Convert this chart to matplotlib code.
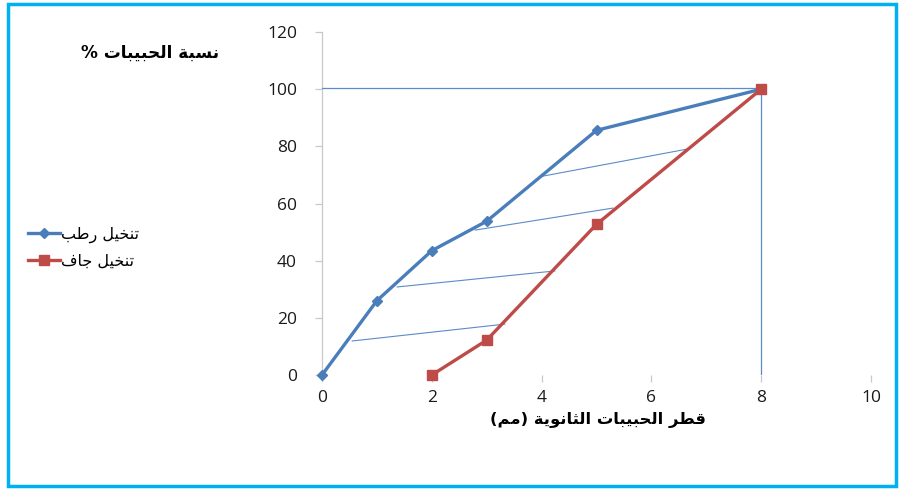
import matplotlib.pyplot as plt
from matplotlib.patches import Rectangle

# ---- data ----
wet_x = [0, 1, 2, 3, 5, 8]
wet_y = [0, 26, 43.5, 53.8, 85.6, 100]
dry_x = [2, 3, 5, 8]
dry_y = [0, 12.2, 52.7, 100]

# thin hand drawn helper lines (x0, y0, x1, y1)
guide_x0 = [0.55, 1.37, 2.79, 4.03]
guide_y0 = [11.9, 30.8, 50.7, 69.6]
guide_x1 = [3.33, 4.24, 5.30, 6.67]
guide_y1 = [17.8, 36.4, 58.4, 79.1]

x_ticks = [0, 2, 4, 6, 8, 10]
y_ticks = [0, 20, 40, 60, 80, 100, 120]

wet_label = "تنخيل رطب"
dry_label = "تنخيل جاف"
x_title = "قطر الحبيبات الثانوية (مم)"
y_title = "نسبة الحبيبات %"

# ---- tiny arabic shaper (matplotlib has no bidi / shaping) ----
# isolated, final, initial, medial
FORMS = {
    'ا': ('\uFE8D', '\uFE8E', None, None),
    'ب': ('\uFE8F', '\uFE90', '\uFE91', '\uFE92'),
    'ة': ('\uFE93', '\uFE94', None, None),
    'ت': ('\uFE95', '\uFE96', '\uFE97', '\uFE98'),
    'ث': ('\uFE99', '\uFE9A', '\uFE9B', '\uFE9C'),
    'ج': ('\uFE9D', '\uFE9E', '\uFE9F', '\uFEA0'),
    'ح': ('\uFEA1', '\uFEA2', '\uFEA3', '\uFEA4'),
    'خ': ('\uFEA5', '\uFEA6', '\uFEA7', '\uFEA8'),
    'ر': ('\uFEAD', '\uFEAE', None, None),
    'س': ('\uFEB1', '\uFEB2', '\uFEB3', '\uFEB4'),
    'ط': ('\uFEC1', '\uFEC2', '\uFEC3', '\uFEC4'),
    'ف': ('\uFED1', '\uFED2', '\uFED3', '\uFED4'),
    'ق': ('\uFED5', '\uFED6', '\uFED7', '\uFED8'),
    'ل': ('\uFEDD', '\uFEDE', '\uFEDF', '\uFEE0'),
    'م': ('\uFEE1', '\uFEE2', '\uFEE3', '\uFEE4'),
    'ن': ('\uFEE5', '\uFEE6', '\uFEE7', '\uFEE8'),
    'و': ('\uFEED', '\uFEEE', None, None),
    'ي': ('\uFEF1', '\uFEF2', '\uFEF3', '\uFEF4'),
}
MIRROR = {'(': ')', ')': '('}


def shape(txt):
    out = []
    for i, ch in enumerate(txt):
        if ch not in FORMS:
            out.append(ch)
            continue
        prev = txt[i - 1] if i > 0 else ''
        nxt = txt[i + 1] if i < len(txt) - 1 else ''
        join_prev = prev in FORMS and FORMS[prev][2] is not None
        join_next = FORMS[ch][2] is not None and nxt in FORMS
        f = FORMS[ch]
        if join_prev and join_next:
            out.append(f[3])
        elif join_prev:
            out.append(f[1])
        elif join_next:
            out.append(f[2])
        else:
            out.append(f[0])
    return ''.join(MIRROR.get(c, c) for c in reversed(out))


blue = '#4A7EBB'
red = '#BE4B48'
thin = '#5B8BC9'

fig = plt.figure(figsize=(9.03, 4.90), dpi=100)
ax = fig.add_axes([322 / 903, 1 - 375 / 490, 549 / 903, 343 / 490])

ax.plot(wet_x, wet_y, color=blue, lw=2.4, marker='D', ms=5, label=shape(wet_label), zorder=4, clip_on=False)
ax.plot(dry_x, dry_y, color=red, lw=2.4, marker='s', ms=7.5, label=shape(dry_label), zorder=4, clip_on=False)

for a, b, c, d in zip(guide_x0, guide_y0, guide_x1, guide_y1):
    ax.plot([a, c], [b, d], color=thin, lw=0.8, zorder=3)
# frame lines at 100 % and 8 mm
ax.plot([0, wet_x[-1]], [wet_y[-1] + 0.3, wet_y[-1] + 0.3], color=thin, lw=0.9, zorder=3)
ax.plot([wet_x[-1], wet_x[-1]], [0, wet_y[-1]], color=thin, lw=0.9, zorder=3)

ax.set_xlim(0, 10)
ax.set_ylim(0, 120)
ax.set_xticks(x_ticks)
ax.set_yticks(y_ticks)
for s in ['top', 'right', 'bottom']:
    ax.spines[s].set_visible(False)
ax.spines['left'].set_color('#C8C8C8')
ax.spines['left'].set_linewidth(0.9)
ax.tick_params(axis='both', colors='#C8C8C8', length=5, width=0.9, labelcolor='#1A1A1A', labelsize=12.5)
ax.tick_params(axis='y', pad=13)
ax.tick_params(axis='x', pad=6)
for lab in ax.get_xticklabels() + ax.get_yticklabels():
    lab.set_family('Open Sans')
ax.patch.set_alpha(0)

fig.text(150 / 903, 1 - 53 / 490, shape(y_title), ha='center', va='center',
         fontsize=12.2, fontweight='bold', family='DejaVu Sans')
fig.text(598 / 903, 1 - 420 / 490, shape(x_title), ha='center', va='center',
         fontsize=11.8, fontweight='bold', family='DejaVu Sans')

fig.legend(loc='upper left', bbox_to_anchor=(14 / 903, 1 - 212 / 490), frameon=False,
           handlelength=2.0, handletextpad=0.05, labelspacing=0.7,
           prop={'family': 'DejaVu Sans', 'size': 11.5})

# outer blue frame
fig.patches.append(Rectangle((8 / 903, 4 / 490), 888 / 903, 482 / 490, transform=fig.transFigure,
                             fill=False, edgecolor='#00B0F0', lw=2.5))

fig.savefig('out.png', dpi=100)
